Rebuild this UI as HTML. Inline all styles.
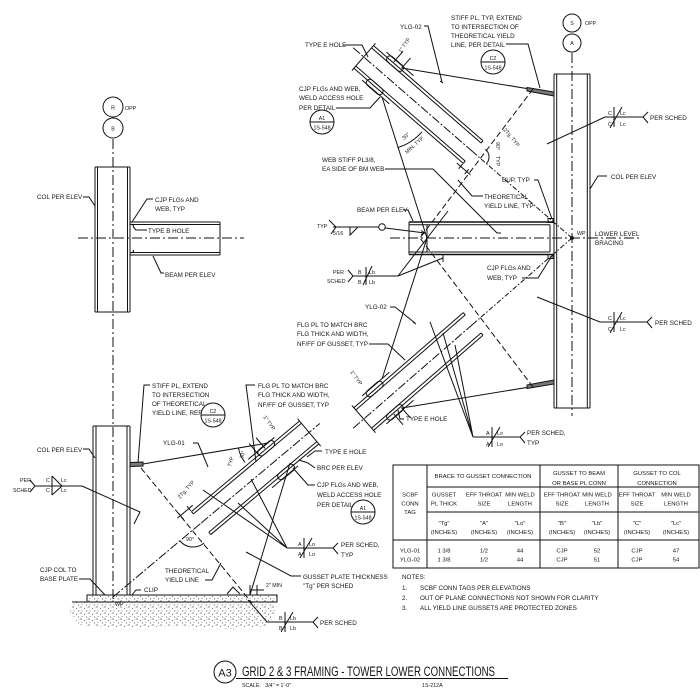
<!DOCTYPE html>
<html><head><meta charset="utf-8">
<style>
html,body{margin:0;padding:0;background:#fff;width:700px;height:700px;overflow:hidden}
svg{display:block}
text{font-family:"Liberation Sans",Arial,sans-serif;font-size:6.3px;fill:#151515;stroke:none}
.s{font-size:5.3px}
.m{text-anchor:middle}
.tb{font-size:5.9px;text-anchor:middle}
</style></head><body>
<svg width="700" height="700" viewBox="0 0 700 700" xmlns="http://www.w3.org/2000/svg">
<defs>
<pattern id="st" width="8" height="6" patternUnits="userSpaceOnUse">
<circle cx="1" cy="1" r=".6" fill="#333"/><circle cx="4.5" cy="2.5" r=".5" fill="#444"/><circle cx="2" cy="4.6" r=".45" fill="#555"/><circle cx="6.6" cy="5" r=".55" fill="#333"/><circle cx="7" cy="1.2" r=".35" fill="#666"/>
</pattern>
</defs>
<rect width="700" height="700" fill="#fff"/>
<g stroke="#111" stroke-width="1" fill="none">
<circle cx="113" cy="107" r="10"/><circle cx="113" cy="128" r="10"/>
<line x1="113" y1="139" x2="113" y2="600" stroke-dasharray="10 3 2 3"/>
<path d="M95,167V312M97.5,167V312M127.5,167V312M130,167V312M95,167H130M95,312H130"/>
<path d="M130,222H220M130,224.5H220M130,252.5H220M130,255H220M220,222V255"/>
<line x1="78" y1="238" x2="244" y2="238" stroke-dasharray="10 3 2 3"/>
<path d="M130.5,224.5a2.2,2.2 0 0 1 3,2.5 M130.5,252.5a2.2,2.2 0 0 0 3,-2.5"/>
<path d="M83,197H89L95,206"/><path d="M153,199H147L132,222"/><path d="M147,230H136L133,226.5"/><path d="M164,273H161L153,256"/>
<circle cx="572" cy="23" r="9"/><circle cx="572" cy="43" r="9"/>
<line x1="572" y1="53" x2="572" y2="416" stroke-dasharray="10 3 2 3"/>
<path d="M554,74V408M556.7,74V408M587.3,74V408M590,74V408M554,74H590M554,408H590"/>
<path d="M409,222H553M409,254.5H553" stroke-width="1.4"/>
<path d="M409,224.8H550M409,252H550M409,222V254.5M427,224.8V252M550,224.8V252"/>
<rect x="548" y="218.5" width="5" height="4"/><rect x="548" y="254.5" width="5" height="4"/>
<line x1="390" y1="238" x2="640" y2="238" stroke-dasharray="10 3 2 3"/>
<circle cx="572" cy="238" r="1.4" fill="#111"/>
<path d="M402,68L554,93"/><polygon points="527,87.5 554,92 554,96 527,91" fill="#777"/>
<path d="M382,97L427,238"/>
<line x1="533" y1="89" x2="420" y2="238" stroke-dasharray="6 3"/>
<path d="M402,408L554,383"/><polygon points="527,388.5 554,384 554,380 527,385" fill="#777"/>
<path d="M382,379L427,238"/>
<line x1="533" y1="387" x2="420" y2="238" stroke-dasharray="6 3"/>
<g transform="translate(572,238) rotate(-139)">
<path d="M131,-15H276M131,-12H276M131,12H276M131,15H276M131,-15V-12M131,12V15M276,-18V18"/>
<line x1="131" y1="0" x2="290" y2="0" stroke-dasharray="9 2 2 2"/>
<line x1="0" y1="0" x2="131" y2="0" stroke-dasharray="5 2 1.5 2"/>
<rect x="238" y="-19" width="20" height="7" rx="3.5"/><rect x="238" y="12" width="20" height="7" rx="3.5"/>
<path d="M226,-18.5H262M226,18.5H262"/>
<path d="M131,-22V-16M123,-22V-16M118,-19H136"/>
<path d="M240,16V30M250,16V30"/>
</g>
<g transform="translate(572,238) rotate(139)">
<path d="M131,-15H276M131,-12H276M131,12H276M131,15H276M131,-15V-12M131,12V15M276,-18V18"/>
<line x1="131" y1="0" x2="290" y2="0" stroke-dasharray="9 2 2 2"/>
<line x1="0" y1="0" x2="131" y2="0" stroke-dasharray="5 2 1.5 2"/>
<rect x="238" y="-19" width="20" height="7" rx="3.5"/><rect x="238" y="12" width="20" height="7" rx="3.5"/>
<path d="M226,-18.5H262M226,18.5H262"/>
<path d="M240,-16V-30M250,-16V-30"/>
</g>
<path d="M397.4,147.7A53,53 0 0 0 422,131.8"/>
<path d="M485.4,149.3A10,10 0 0 1 486.5,163.6"/>
<path d="M424,26H428L442,82M440,81l3,2"/>
<path d="M506,44H528L540,88"/>
<circle cx="493" cy="62" r="12"/><line x1="481" y1="62" x2="505" y2="62"/>
<path d="M343,45H362L368,57"/>
<path d="M336,108H370L380,97"/>
<circle cx="322" cy="122" r="12"/><line x1="310" y1="122" x2="334" y2="122"/>
<path d="M385,169H433L497,233H501"/>
<path d="M534,180H538L552,219"/>
<path d="M483,196H472L458,180"/>
<path d="M403,210H408L413,221"/>
<path d="M329,220L336,227L331,234M333,227H379M350,227V235L358,227"/>
<circle cx="382" cy="227" r="3.3"/>
<path d="M385.5,228L425,233M421,230.5l4,2.5-4,1.5"/>
<path d="M348,270L353,276L348,282M353,276H398M366,267V285M363,285L372,266"/>
<path d="M398,276L448,211M398,276L443,258M443,254V262"/>
<path d="M522,278H538L553,254"/>
<path d="M605,117H643M648,112L643,117L648,123M614,107V127M610,128L622,107"/>
<path d="M605,117L547,144"/>
<path d="M600,322H647M652,317L647,322L652,328M614,312V332M610,333L622,312"/>
<path d="M600,322L537,297"/>
<path d="M607,176H598L590,189"/>
<path d="M390,307H395L415,323M413,322l3,2"/>
<path d="M369,344H388L405,360"/>
<path d="M404,419H400L398,410"/>
<path d="M473,437H520M525,432L520,437L525,443M492,427V447M488,447L500,427"/>
<path d="M473,437L430,322M473,437L443,333M473,437L455,345"/>
<path d="M93,426V595M96,426V595M127,426V595M130,426V595M93,426H130"/>
<rect x="87" y="595" width="190" height="7" fill="url(#st)"/>
<path d="M72,602L273,602L276,612L268,626L230,629L180,626L120,628L80,625L70,613Z" fill="url(#st)" stroke="none"/>
<path d="M72,602H273"/>
<polygon points="130,462.5 143,462 143,466 130,466.5" fill="#777"/>
<path d="M143,464L268,443"/>
<path d="M290,463L250,595"/>
<line x1="141" y1="468" x2="252" y2="603" stroke-dasharray="6 3"/>
<g transform="translate(113,597) rotate(-40)">
<path d="M115,-15H256M115,-12H256M115,12H256M115,15H256M115,-15V-12M115,12V15M256,-18V18"/>
<line x1="115" y1="0" x2="270" y2="0" stroke-dasharray="9 2 2 2"/>
<line x1="0" y1="0" x2="115" y2="0" stroke-dasharray="9 2 2 2"/>
<rect x="203" y="-19" width="20" height="7" rx="3.5"/><rect x="203" y="12" width="20" height="7" rx="3.5"/>
<path d="M192,-18.5H226M192,18.5H226"/>
<path d="M104,-22V-14M115,-22V-16M100,-19H120"/>
<path d="M212,-16V-30M203,-16V-30"/>
</g>
<path d="M204,543A17,17 0 0 1 180,541"/>
<path d="M238.5,448.2A30,30 0 0 0 245,462.3"/>
<path d="M150,385H144L138,463"/>
<circle cx="213" cy="415" r="12"/><line x1="201" y1="415" x2="225" y2="415"/>
<path d="M255,385H246L256,462"/>
<path d="M193,443H198L208,467"/>
<path d="M322,451H315L307,457"/>
<path d="M315,468L308,463L299,460"/>
<path d="M315,485H308L293,468"/>
<circle cx="363" cy="512" r="12"/><line x1="351" y1="512" x2="375" y2="512"/>
<path d="M83,449H89L95,458"/>
<path d="M30,480L35,486L30,492M35,486H82M52,476V495M52,476L62,486L52,495"/>
<path d="M82,486L140,512L134,524"/>
<path d="M287,548H333M338,543L333,548L338,554M304,538V558M300,558L312,538"/>
<path d="M287,548L203,490M287,548L238,503M287,548L251,479"/>
<path d="M301,576H291L246,552"/>
<path d="M205,580H212L221,563"/>
<path d="M79,579H90L105,595"/>
<path d="M141,590H136L132,595"/>
<path d="M227,594L233,587L240,594"/>
<path d="M250,585V595M257,585V595M250,590H264"/>
<path d="M267,622H313M318,617L313,622L318,628M285,612V632M281,632L293,612"/>
<path d="M267,622L248,600"/>
<rect x="393" y="465" width="306" height="103"/>
<path d="M427,465V568M540,465V568M618,465V568M427,487H699M427,512H699M393,540H699"/>
<circle cx="225" cy="672" r="11"/>
<line x1="236" y1="678.5" x2="508" y2="678.5"/>
</g>
<text x="113" y="109.5" class="s m">R</text><text x="125" y="110" class="s">OPP</text><text x="113" y="130.5" class="s m">B</text>
<text x="37" y="199">COL PER ELEV</text>
<text x="155" y="202">CJP FLGs AND</text><text x="155" y="211">WEB, TYP</text>
<text x="148" y="233">TYPE B HOLE</text>
<text x="165" y="277">BEAM PER ELEV</text>
<text x="572" y="25" class="s m">S</text><text x="585" y="25" class="s">OPP</text><text x="572" y="45" class="s m">A</text>
<text x="400" y="29">YLG-02</text>
<text x="451" y="20">STIFF PL, TYP, EXTEND</text><text x="451" y="29">TO INTERSECTION OF</text><text x="451" y="38">THEORETICAL YIELD</text><text x="451" y="47">LINE, PER DETAIL</text>
<text x="493" y="60" class="s m">C2</text><text x="493" y="69.5" class="s m">1S-548</text>
<text x="305" y="47">TYPE E HOLE</text>
<text x="299" y="91">CJP FLGs AND WEB,</text><text x="299" y="100">WELD ACCESS HOLE</text><text x="299" y="110">PER DETAIL</text>
<text x="322" y="120" class="s m">A1</text><text x="322" y="129.5" class="s m">1S-548</text>
<text x="322" y="162">WEB STIFF PL3/8,</text><text x="322" y="171">EA SIDE OF BM WEB</text>
<text x="502" y="182">BUP, TYP</text>
<text x="484" y="199">THEORETICAL</text><text x="484" y="208">YIELD LINE, TYP</text>
<text x="357" y="212">BEAM PER ELEV</text>
<text x="317" y="228" class="s">TYP</text><text x="333" y="235" class="s">5/16</text>
<text x="333" y="274" class="s">PER</text><text x="327" y="283" class="s">SCHED</text>
<text x="358" y="274" class="s">B</text><text x="358" y="284" class="s">B</text><text x="369" y="274" class="s">Lb</text><text x="369" y="284" class="s">Lb</text>
<text x="487" y="270">CJP FLGs AND</text><text x="487" y="280">WEB, TYP</text>
<text x="577" y="235" class="s">WP</text><text x="595" y="236">LOWER LEVEL</text><text x="595" y="245">BRACING</text>
<text x="611" y="179">COL PER ELEV</text>
<text x="608" y="115" class="s">C</text><text x="608" y="126" class="s">C</text><text x="620" y="115" class="s">Lc</text><text x="620" y="126" class="s">Lc</text><text x="650" y="120">PER SCHED</text>
<text x="608" y="320" class="s">C</text><text x="608" y="331" class="s">C</text><text x="620" y="320" class="s">Lc</text><text x="620" y="331" class="s">Lc</text><text x="655" y="325">PER SCHED</text>
<text x="365" y="309">YLG-02</text>
<text x="297" y="327">FLG PL TO MATCH BRC</text><text x="297" y="336">FLG THICK AND WIDTH,</text><text x="297" y="346">NF/FF OF GUSSET, TYP</text>
<text x="406" y="421">TYPE E HOLE</text>
<text x="486" y="435" class="s">A</text><text x="486" y="446" class="s">A</text><text x="497" y="435" class="s">Lo</text><text x="497" y="446" class="s">Lo</text>
<text x="527" y="435">PER SCHED,</text><text x="527" y="445">TYP</text>
<text transform="translate(401,53) rotate(-55)" class="s">1" TYP</text>
<text transform="translate(404,140) rotate(-42)" class="s">30°</text>
<text transform="translate(407,154) rotate(-42)" class="s">MIN, TYP</text>
<text transform="translate(503,130) rotate(50)" class="s">2Tg, TYP</text>
<text transform="translate(496,142) rotate(90)" class="s">90°</text>
<text transform="translate(496,156) rotate(90)" class="s">TYP</text>
<text transform="translate(350,372) rotate(55)" class="s">1" TYP</text>
<text x="152" y="388">STIFF PL, EXTEND</text><text x="152" y="397">TO INTERSECTION</text><text x="152" y="406">OF THEORETICAL</text><text x="152" y="415">YIELD LINE, REF</text>
<text x="213" y="413" class="s m">C2</text><text x="213" y="422.5" class="s m">1S-548</text>
<text x="258" y="388">FLG PL TO MATCH BRC</text><text x="258" y="397">FLG THICK AND WIDTH,</text><text x="258" y="407">NF/FF OF GUSSET, TYP</text>
<text x="163" y="445">YLG-01</text>
<text x="325" y="454">TYPE E HOLE</text>
<text x="317" y="470">BRC PER ELEV</text>
<text x="317" y="487">CJP FLGs AND WEB,</text><text x="317" y="497">WELD ACCESS HOLE</text><text x="317" y="507">PER DETAIL</text>
<text x="363" y="510" class="s m">A1</text><text x="363" y="519.5" class="s m">1S-548</text>
<text x="37" y="452">COL PER ELEV</text>
<text x="20" y="482" class="s">PER</text><text x="13" y="492" class="s">SCHED</text>
<text x="46" y="482" class="s">C</text><text x="46" y="492" class="s">C</text><text x="61" y="482" class="s">Lc</text><text x="61" y="492" class="s">Lc</text>
<text x="298" y="546" class="s">A</text><text x="298" y="556" class="s">A</text><text x="309" y="546" class="s">Lo</text><text x="309" y="556" class="s">Lo</text>
<text x="341" y="547">PER SCHED,</text><text x="341" y="557">TYP</text>
<text x="303" y="579">GUSSET PLATE THICKNESS</text><text x="303" y="588">"Tg" PER SCHED</text>
<text x="165" y="573">THEORETICAL</text><text x="165" y="582">YIELD LINE</text>
<text x="40" y="572">CJP COL TO</text><text x="40" y="581">BASE PLATE</text>
<text x="144" y="592">CLIP</text>
<text x="266" y="587" class="s">2" MIN</text>
<text x="115" y="606" class="s">WP</text>
<text x="279" y="620" class="s">B</text><text x="279" y="630" class="s">B</text><text x="290" y="620" class="s">Lb</text><text x="290" y="630" class="s">Lb</text>
<text x="320" y="625">PER SCHED</text>
<text transform="translate(263,417) rotate(55)" class="s">1" TYP</text>
<text transform="translate(243,459) rotate(-75)" class="s">30°</text>
<text transform="translate(231,467) rotate(-75)" class="s">TYP</text>
<text transform="translate(180,499) rotate(-48)" class="s">2Tg, TYP</text>
<text x="186" y="541" class="s">90°</text>
<text x="410" y="496.5" class="tb">SCBF</text><text x="410" y="505.5" class="tb">CONN</text><text x="410" y="514" class="tb">TAG</text>
<text x="483" y="478" class="tb">BRACE TO GUSSET CONNECTION</text>
<text x="579" y="475" class="tb">GUSSET TO BEAM</text><text x="579" y="485" class="tb">OR BASE PL CONN</text>
<text x="657" y="475" class="tb">GUSSET TO COL</text><text x="657" y="485" class="tb">CONNECTION</text>
<text x="444" y="496.5" class="tb">GUSSET</text><text x="444" y="505.5" class="tb">PL THICK</text>
<text x="484" y="496.5" class="tb">EFF THROAT</text><text x="484" y="505.5" class="tb">SIZE</text>
<text x="520" y="496.5" class="tb">MIN WELD</text><text x="520" y="505.5" class="tb">LENGTH</text>
<text x="562" y="496.5" class="tb">EFF THROAT</text><text x="562" y="505.5" class="tb">SIZE</text>
<text x="597" y="496.5" class="tb">MIN WELD</text><text x="597" y="505.5" class="tb">LENGTH</text>
<text x="637" y="496.5" class="tb">EFF THROAT</text><text x="637" y="505.5" class="tb">SIZE</text>
<text x="676" y="496.5" class="tb">MIN WELD</text><text x="676" y="505.5" class="tb">LENGTH</text>
<text x="444" y="525" class="tb">"Tg"</text><text x="484" y="525" class="tb">"A"</text><text x="520" y="525" class="tb">"Lo"</text><text x="562" y="525" class="tb">"B"</text><text x="597" y="525" class="tb">"Lb"</text><text x="637" y="525" class="tb">"C"</text><text x="676" y="525" class="tb">"Lc"</text>
<text x="444" y="534" class="tb">(INCHES)</text><text x="484" y="534" class="tb">(INCHES)</text><text x="520" y="534" class="tb">(INCHES)</text><text x="562" y="534" class="tb">(INCHES)</text><text x="597" y="534" class="tb">(INCHES)</text><text x="637" y="534" class="tb">(INCHES)</text><text x="676" y="534" class="tb">(INCHES)</text>
<text x="410" y="552.5" class="tb">YLG-01</text><text x="444" y="552.5" class="tb">1 3/8</text><text x="484" y="552.5" class="tb">1/2</text><text x="520" y="552.5" class="tb">44</text><text x="562" y="552.5" class="tb">CJP</text><text x="597" y="552.5" class="tb">52</text><text x="637" y="552.5" class="tb">CJP</text><text x="676" y="552.5" class="tb">47</text>
<text x="410" y="561.5" class="tb">YLG-02</text><text x="444" y="561.5" class="tb">1 3/8</text><text x="484" y="561.5" class="tb">1/2</text><text x="520" y="561.5" class="tb">44</text><text x="562" y="561.5" class="tb">CJP</text><text x="597" y="561.5" class="tb">51</text><text x="637" y="561.5" class="tb">CJP</text><text x="676" y="561.5" class="tb">54</text>
<text x="402" y="579">NOTES:</text>
<text x="402" y="590">1.</text><text x="420" y="590">SCBF CONN TAGS PER ELEVATIONS</text>
<text x="402" y="600">2.</text><text x="420" y="600">OUT OF PLANE CONNECTIONS NOT SHOWN FOR CLARITY</text>
<text x="402" y="610">3.</text><text x="420" y="610">ALL YIELD LINE GUSSETS ARE PROTECTED ZONES</text>
<text x="225" y="676.5" class="m" style="font-size:11px">A3</text>
<text x="242" y="676" style="font-size:13.5px" textLength="253" lengthAdjust="spacingAndGlyphs">GRID 2 &amp; 3 FRAMING - TOWER LOWER CONNECTIONS</text>
<text x="242" y="687" class="s">SCALE:&#160;&#160;&#160;3/4" = 1'-0"</text>
<text x="422" y="687" class="s">1S-212A</text>
</svg>
</body></html>
